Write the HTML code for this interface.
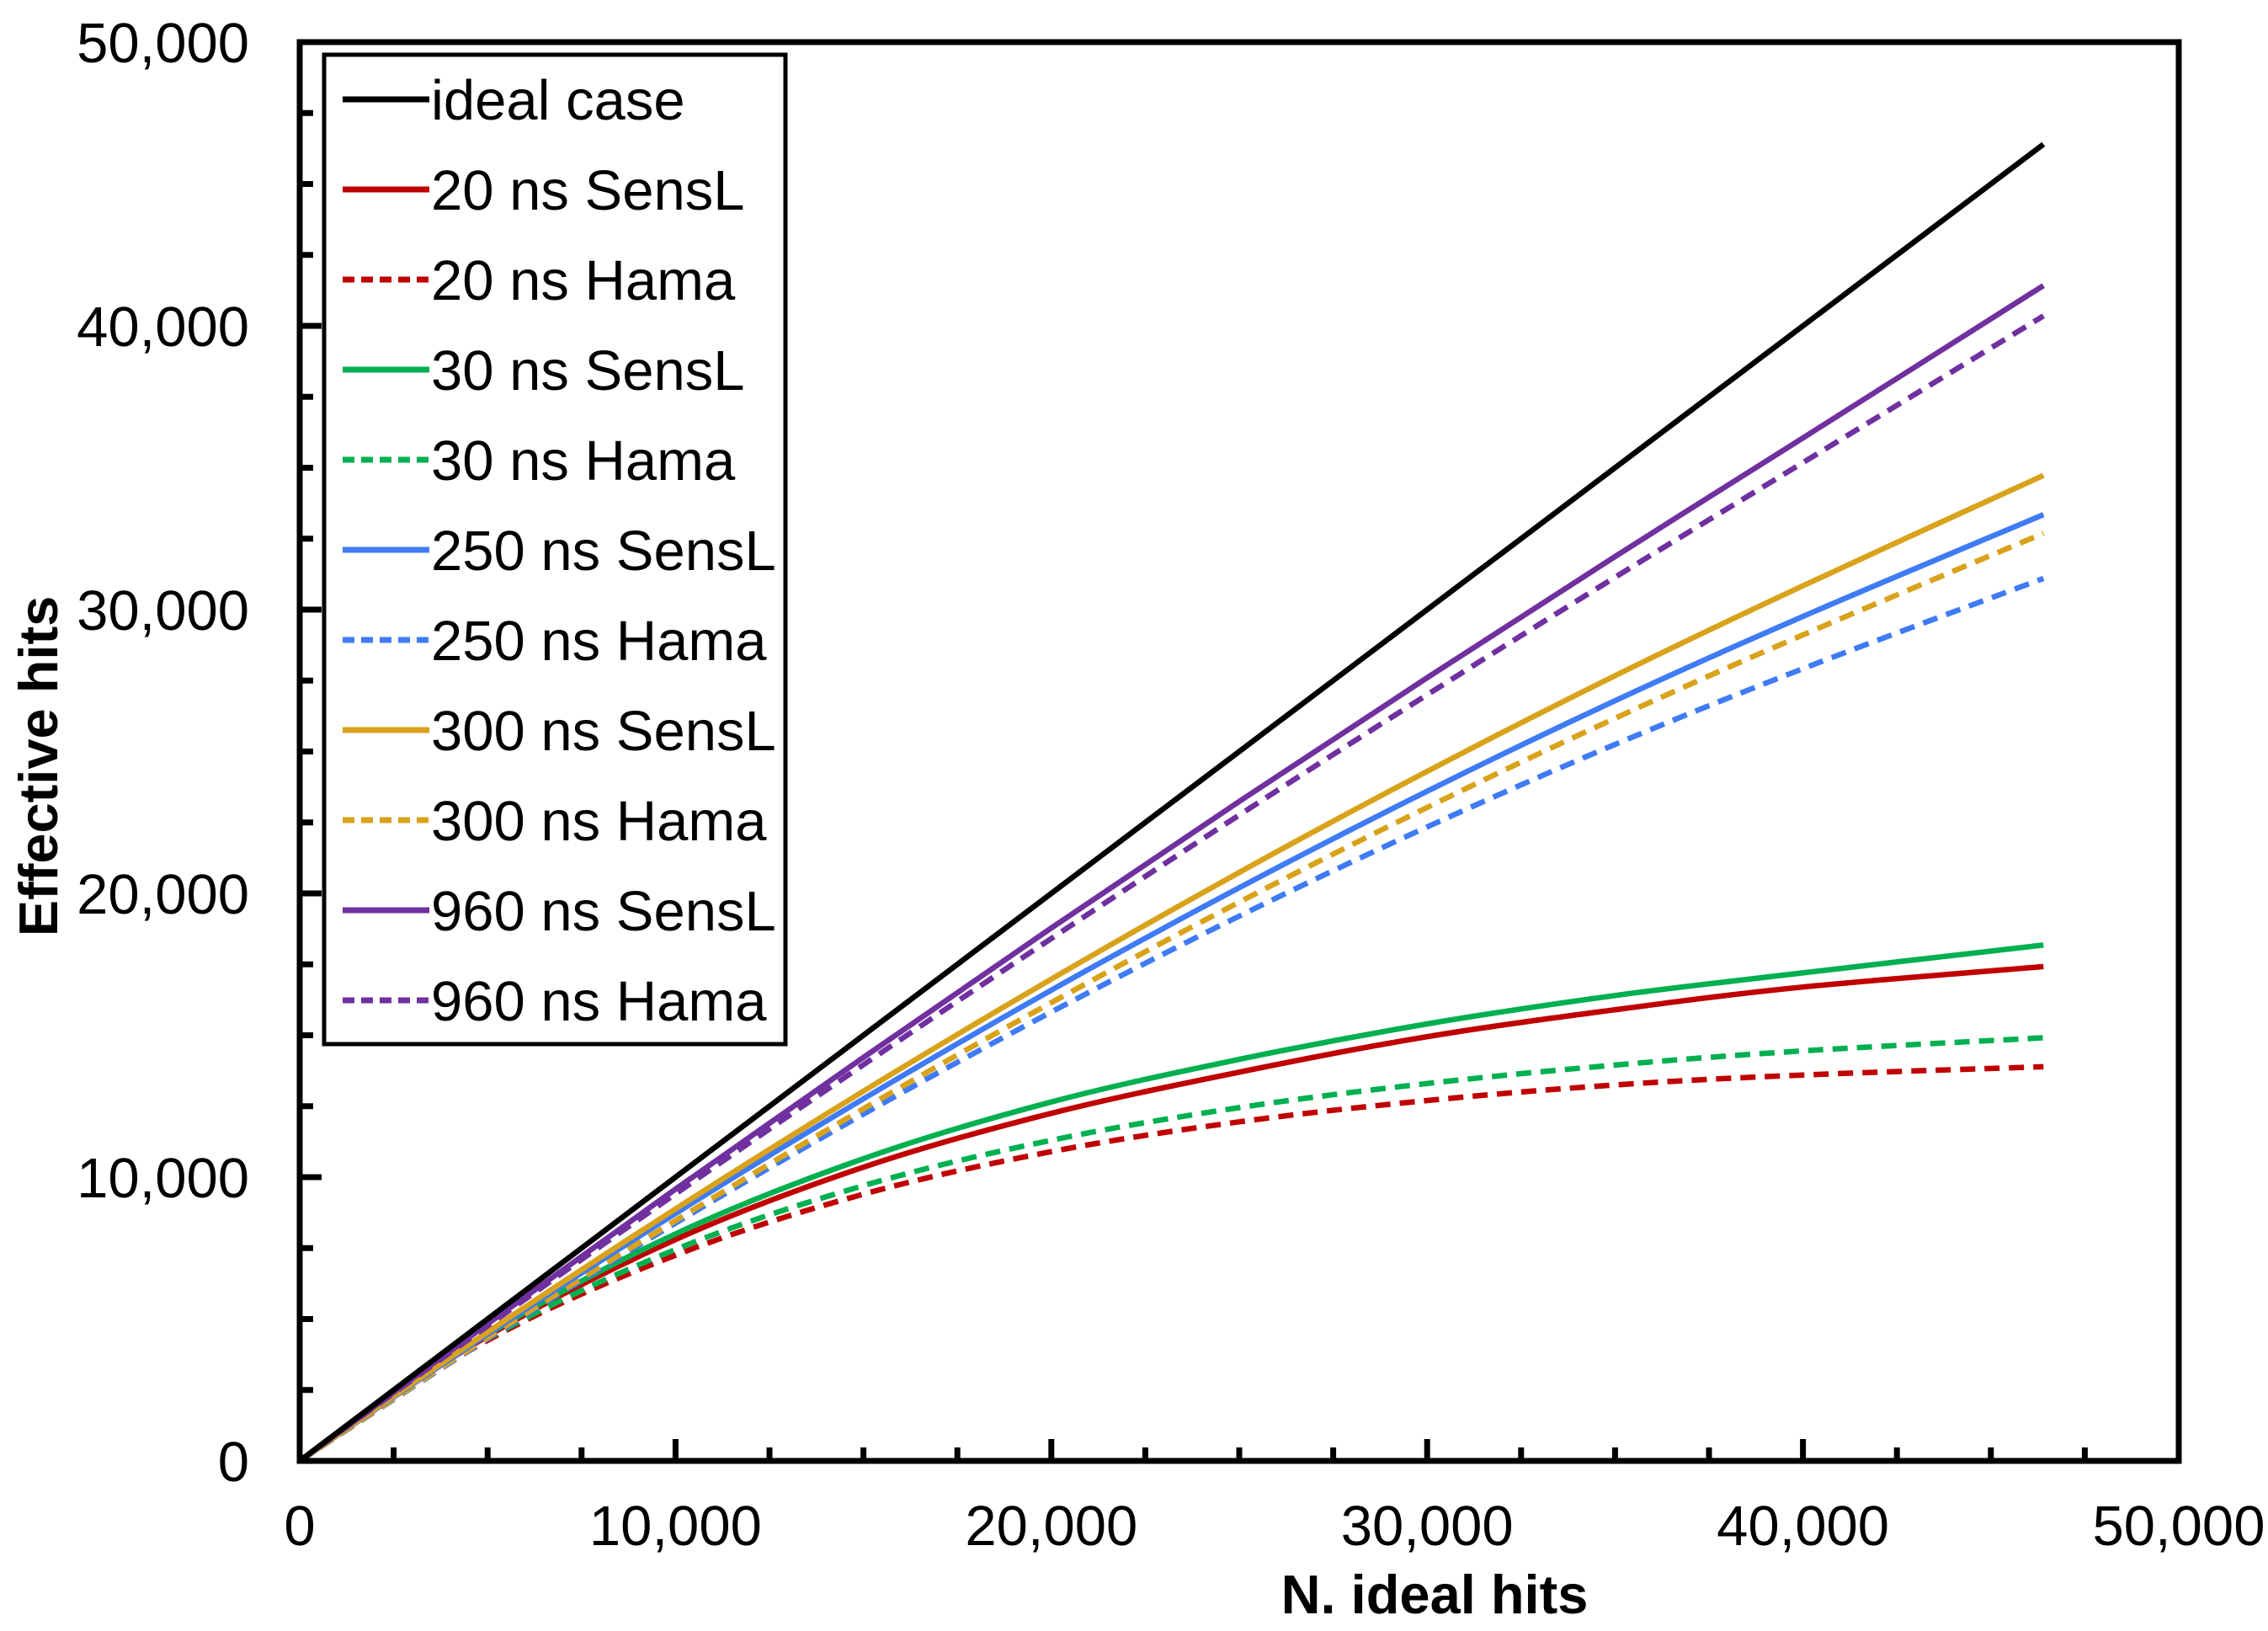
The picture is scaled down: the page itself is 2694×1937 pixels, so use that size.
<!DOCTYPE html>
<html><head><meta charset="utf-8"><style>
html,body{margin:0;padding:0;background:#fff;}
svg{display:block;font-family:"Liberation Sans",Arial,sans-serif;}
</style></head><body>
<svg id="chart" width="2694" height="1937" viewBox="0 0 2694 1937" xmlns="http://www.w3.org/2000/svg">
<rect x="0" y="0" width="2694" height="1937" fill="#fff"/>
<g id="series"></g>
<g id="axes"></g>
<g id="legend"></g>
</svg>
<script>
const xValues = [0, 5000, 10000, 15000, 20000, 25000, 30000, 35000, 40000, 46400];
const idealCase = [0, 5000, 10000, 15000, 20000, 25000, 30000, 35000, 40000, 46400];
const sensl20 = [0, 4400, 7800, 10350, 12250, 13700, 14950, 15900, 16700, 17420];
const hama20 = [0, 4250, 7250, 9400, 10900, 11950, 12700, 13250, 13600, 13890];
const sensl30 = [0, 4450, 8000, 10650, 12650, 14150, 15400, 16400, 17200, 18180];
const hama30 = [0, 4300, 7450, 9700, 11300, 12450, 13300, 13950, 14450, 14910];
const sensl250 = [0, 4470, 8720, 12760, 16590, 20200, 23600, 26790, 29760, 33350];
const hama250 = [0, 4300, 8380, 12220, 15820, 19200, 22340, 25250, 27920, 31100];
const sensl300 = [0, 4540, 8880, 13030, 16980, 20740, 24300, 27670, 30840, 34730];
const hama300 = [0, 4340, 8470, 12410, 16150, 19690, 23030, 26170, 29110, 32690];
const sensl960 = [0, 4830, 9580, 14220, 18780, 23240, 27600, 31870, 36050, 41420];
const hama960 = [0, 4760, 9410, 13960, 18410, 22760, 27000, 31140, 35180, 40350];
const seriesNames = ["ideal case","20 ns SensL","20 ns Hama","30 ns SensL","30 ns Hama","250 ns SensL","250 ns Hama","300 ns SensL","300 ns Hama","960 ns SensL","960 ns Hama"];
const xTickValues = [0, 10000, 20000, 30000, 40000, 50000];
const xTickLabels = ["0","10,000","20,000","30,000","40,000","50,000"];
const yTickValues = [0, 10000, 20000, 30000, 40000, 50000];
const yTickLabels = ["0","10,000","20,000","30,000","40,000","50,000"];

const NS = "http://www.w3.org/2000/svg";
const X0 = 356, XS = 2232/50000, Y0 = 1735, YS = 1685/50000;
function sx(v){ return X0 + v*XS; }
function sy(v){ return Y0 - v*YS; }
function mk(tag, attrs, parent){ const e=document.createElementNS(NS,tag); for(const k in attrs) e.setAttribute(k,attrs[k]); parent.appendChild(e); return e; }

const seriesData = [idealCase,sensl20,hama20,sensl30,hama30,sensl250,hama250,sensl300,hama300,sensl960,hama960];
const colors = ["#000000","#C00000","#C00000","#00B050","#00B050","#3F7BF5","#3F7BF5","#D9A21B","#D9A21B","#7030A0","#7030A0"];
const dashed = [false,false,true,false,true,false,true,false,true,false,true];
const slugs = ["ideal-case","20ns-sensl","20ns-hama","30ns-sensl","30ns-hama","250ns-sensl","250ns-hama","300ns-sensl","300ns-hama","960ns-sensl","960ns-hama"];

function smoothPath(xs, ys){
  const p = xs.map((x,i)=>[sx(x), sy(ys[i])]);
  let d = "M"+p[0][0].toFixed(1)+","+p[0][1].toFixed(1);
  for(let i=0;i<p.length-1;i++){
    const a=p[Math.max(i-1,0)], b=p[i], c=p[i+1], e=p[Math.min(i+2,p.length-1)];
    const c1=[b[0]+(c[0]-a[0])/6, b[1]+(c[1]-a[1])/6];
    const c2=[c[0]-(e[0]-b[0])/6, c[1]-(e[1]-b[1])/6];
    d += " C"+c1[0].toFixed(1)+","+c1[1].toFixed(1)+" "+c2[0].toFixed(1)+","+c2[1].toFixed(1)+" "+c[0].toFixed(1)+","+c[1].toFixed(1);
  }
  return d;
}

const sg = document.getElementById("series");
const order = [1,2,3,4,6,8,5,7,10,9,0];
order.forEach(i=>{
  const el = mk("path",{d:smoothPath(xValues, seriesData[i]), fill:"none", stroke:colors[i], "stroke-width":6.5, "stroke-linecap":"butt", "stroke-linejoin":"round"}, sg);
  if(dashed[i]) el.setAttribute("stroke-dasharray","18,11");
  
  
});

const ax = document.getElementById("axes");
for(let v=2500; v<50000; v+=2500){
  const major = v%10000===0;
  const len = major?26:16;
  const t = mk("line",{x1:sx(v),x2:sx(v),y1:Y0,y2:Y0-len,stroke:"#000","stroke-width":7},ax);
  
  
  const u = mk("line",{x1:X0,x2:X0+len,y1:sy(v),y2:sy(v),stroke:"#000","stroke-width":7},ax);
  
  
}
const frame = mk("rect",{x:X0,y:50,width:2588-X0,height:Y0-50,fill:"none",stroke:"#000","stroke-width":7},ax);



xTickValues.forEach((v,i)=>{
  const t = mk("text",{x:sx(v),y:1835,"font-size":67,"text-anchor":"middle",fill:"#000"},ax);
  t.textContent = xTickLabels[i];
  
  
});
yTickValues.forEach((v,i)=>{
  const t = mk("text",{x:296,y:sy(v)+24,"font-size":67,"text-anchor":"end",fill:"#000"},ax);
  t.textContent = yTickLabels[i];
  
  
});
const xt = mk("text",{x:1704,y:1916,"font-size":65,"font-weight":"bold","text-anchor":"middle",fill:"#000"},ax);
xt.textContent = "N. ideal hits";


const yt = mk("text",{x:0,y:0,"font-size":65,"font-weight":"bold","text-anchor":"middle",fill:"#000",transform:"translate(68,910) rotate(-90)"},ax);
yt.textContent = "Effective hits";



const lg = document.getElementById("legend");
const box = mk("rect",{x:385,y:65,width:548,height:1175,fill:"#fff",stroke:"#000","stroke-width":5},lg);


seriesNames.forEach((n,i)=>{
  const y = 118 + i*107;
  const g = mk("g",{},lg);
  
  
  const l = mk("line",{x1:407,x2:510,y1:y,y2:y,stroke:colors[i],"stroke-width":7},g);
  if(dashed[i]) l.setAttribute("stroke-dasharray","14,8");
  
  
  const t = mk("text",{x:512,y:y+24,"font-size":67,fill:"#000"},g);
  t.textContent = n;
  
  
});
</script>
</body></html>
